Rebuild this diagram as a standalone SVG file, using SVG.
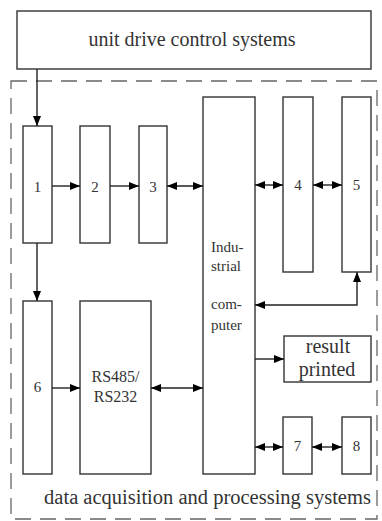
<svg xmlns="http://www.w3.org/2000/svg" width="382" height="521" viewBox="0 0 382 521">
<style>
.box{fill:#fff;stroke:#333;stroke-width:1.4}
.ln{fill:none;stroke:#222;stroke-width:1.4}
.t{font-family:"Liberation Serif",serif;fill:#333;font-size:15px;text-anchor:middle}
.tl{font-family:"Liberation Serif",serif;fill:#333;font-size:15px}
.big{font-size:20px}
</style>
<defs>
<marker id="ah" viewBox="0 0 10 8" refX="10" refY="4" markerWidth="10" markerHeight="8" markerUnits="userSpaceOnUse" orient="auto-start-reverse">
<path d="M0,0 L10,4 L0,8 z" fill="#000"/>
</marker>
</defs>
<rect width="382" height="521" fill="#fff"/>
<rect x="11" y="81" width="366" height="438" fill="none" stroke="#666" stroke-width="1.3" stroke-dasharray="16 9"/>
<g id="top"><rect class="box" x="17" y="11" width="354" height="58"/><text class="t big" x="192" y="46">unit drive control systems</text></g>
<g id="n1"><rect class="box" x="23" y="126" width="29" height="117"/><text class="t" x="37.5" y="192">1</text></g>
<g id="n2"><rect class="box" x="80" y="126" width="30" height="117"/><text class="t" x="95" y="192">2</text></g>
<g id="n3"><rect class="box" x="139" y="126" width="28" height="117"/><text class="t" x="153" y="192">3</text></g>
<g id="ipc"><rect class="box" x="203" y="97" width="52" height="377"/><text class="tl" x="211" y="252">Indu-</text><text class="tl" x="211" y="271">strial</text><text class="tl" x="211" y="309">com-</text><text class="tl" x="211" y="330">puter</text></g>
<g id="n4"><rect class="box" x="283" y="97" width="30" height="175"/><text class="t" x="298" y="190">4</text></g>
<g id="n5"><rect class="box" x="342" y="97" width="29" height="175"/><text class="t" x="356.5" y="190">5</text></g>
<g id="n6"><rect class="box" x="23" y="301" width="29" height="173"/><text class="t" x="37.5" y="392">6</text></g>
<g id="rs"><rect class="box" x="80" y="301" width="71" height="173"/><text class="t" x="115.5" y="382" style="font-size:16px">RS485/</text><text class="t" x="115.5" y="402" style="font-size:16px">RS232</text></g>
<g id="res"><rect class="box" x="284" y="336" width="87" height="46"/><text class="t big" x="328" y="353">result</text><text class="t big" x="327" y="376">printed</text></g>
<g id="n7"><rect class="box" x="283" y="417" width="29" height="57"/><text class="t" x="297.5" y="451">7</text></g>
<g id="n8"><rect class="box" x="342" y="417" width="29" height="57"/><text class="t" x="356.5" y="451">8</text></g>
<text class="t" x="207.5" y="504" style="font-size:20.5px">data acquisition and processing systems</text>
<g id="connectors">
<path class="ln" d="M37,69 V126" marker-end="url(#ah)"/>
<path class="ln" d="M52,186 H80" marker-end="url(#ah)"/>
<path class="ln" d="M110,186 H139" marker-end="url(#ah)"/>
<path class="ln" d="M167,186 H203" marker-start="url(#ah)" marker-end="url(#ah)"/>
<path class="ln" d="M255,185 H283" marker-start="url(#ah)" marker-end="url(#ah)"/>
<path class="ln" d="M313,185 H342" marker-start="url(#ah)" marker-end="url(#ah)"/>
<path class="ln" d="M37,243 V301" marker-end="url(#ah)"/>
<path class="ln" d="M357,272 V305 H255" marker-start="url(#ah)" marker-end="url(#ah)"/>
<path class="ln" d="M255,359 H284" marker-end="url(#ah)"/>
<path class="ln" d="M52,388 H80" marker-end="url(#ah)"/>
<path class="ln" d="M151,388 H203" marker-start="url(#ah)" marker-end="url(#ah)"/>
<path class="ln" d="M255,447 H283" marker-start="url(#ah)" marker-end="url(#ah)"/>
<path class="ln" d="M312,447 H342" marker-start="url(#ah)" marker-end="url(#ah)"/>
</g>
</svg>
